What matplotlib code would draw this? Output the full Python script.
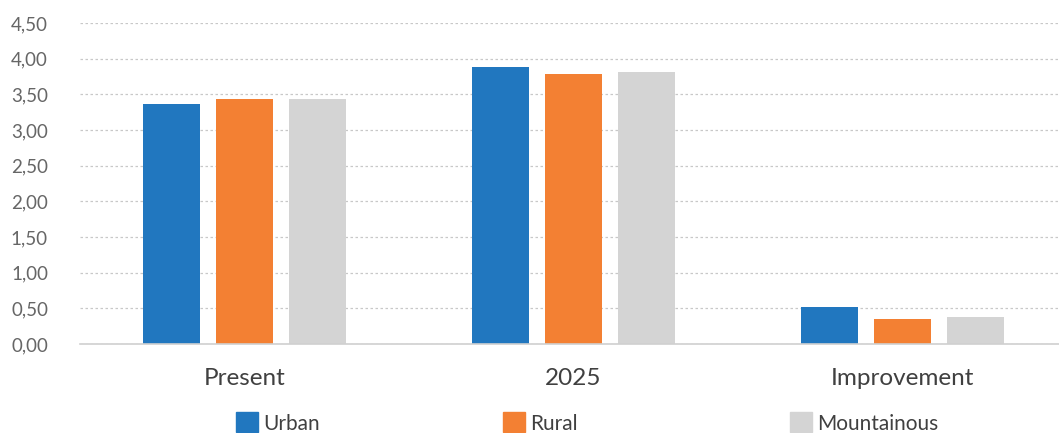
import numpy as np
import matplotlib.pyplot as plt
from matplotlib.ticker import FuncFormatter
from matplotlib.patches import Patch

plt.rcParams['font.family'] = ['Lato', 'DejaVu Sans']

categories = ['Present', '2025', 'Improvement']
series = ['Urban', 'Rural', 'Mountainous']
urban = [3.36, 3.885, 0.52]
rural = [3.43, 3.79, 0.345]
mountainous = [3.43, 3.815, 0.38]
colors = ['#2177bf', '#f38033', '#d4d4d4']

fig = plt.figure(figsize=(10.59, 4.33), dpi=100)
ax = fig.add_axes([0.0755, 0.2055, 0.932, 0.7415])

x = np.arange(len(categories))
width = 0.173
offset = 0.222
for i, (vals, name) in enumerate(zip([urban, rural, mountainous], series)):
    ax.bar(x + (i - 1) * offset, vals, width, color=colors[i], label=name, zorder=3)

ax.set_xlim(-0.5, 2.5)
ax.set_ylim(0, 4.5)
ax.set_yticks(np.arange(0, 4.51, 0.5))
ax.yaxis.set_major_formatter(FuncFormatter(lambda v, p: f'{v:.2f}'.replace('.', ',')))
ax.set_xticks(x)
ax.set_xticklabels(categories, fontsize=17.5, color='#404040')
ax.tick_params(axis='y', labelsize=13.5, colors='#666666', length=0, pad=23)
ax.tick_params(axis='x', length=0, pad=17)

ax.grid(axis='y', color='#c8c8c8', linestyle=(0, (2, 2)), linewidth=0.9, zorder=0)
for s in ['top', 'right', 'left']:
    ax.spines[s].set_visible(False)
ax.spines['bottom'].set_color('#d0d0d0')
ax.spines['bottom'].set_linewidth(1.2)
ax.spines['bottom'].set_zorder(4)

# one legend entry each, placed like the reference
legend_x = [236, 503, 790]
for lx, name, c in zip(legend_x, series, colors):
    fig.legend(handles=[Patch(color=c, label=name)], loc='center left',
               bbox_to_anchor=(lx / 1059, 1 - 423 / 433), frameon=False,
               borderpad=0, borderaxespad=0, fontsize=15, handlelength=1.05,
               handleheight=1.1, handletextpad=0.25, labelcolor='#404040')

fig.savefig('out.png', dpi=100)
